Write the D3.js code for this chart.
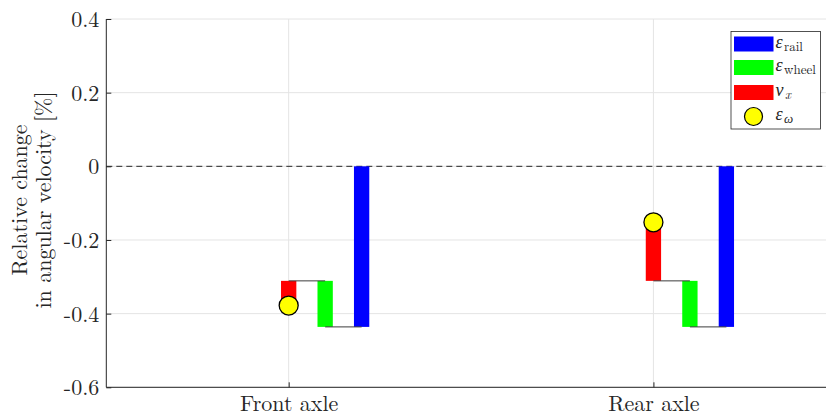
<!DOCTYPE html>
<html>
<head>
<meta charset="utf-8">
<script src="https://cdn.jsdelivr.net/npm/d3@7"></script>
<style>
  html, body { margin: 0; padding: 0; background: #fff; }
  svg { display: block; }
  text { font-family: "Latin Modern Roman", "CMU Serif", "Liberation Serif", serif; fill: #262626; }
</style>
</head>
<body>
<svg id="chart" width="826" height="416"></svg>
<script>
// Waterfall of the relative change in angular velocity, per axle
const categories = ["Front axle", "Rear axle"];
const epsRail  = [-0.436, -0.436];   // rail contribution (from 0)
const epsWheel = [0.125, 0.125];     // wheel contribution (stacked on rail)
const nuX      = [-0.067, 0.159];    // longitudinal creep contribution
const epsOmega = [-0.378, -0.152];   // resulting change in angular velocity
const yTicks   = [-0.6, -0.4, -0.2, 0, 0.2, 0.4];

const W = 826, H = 416;
const plotL = 106.3, plotR = 835.8, plotT = 19, plotB = 387.3;

const svg = d3.select("#chart");

const x = d3.scaleLinear().domain([0.5, 2.5]).range([plotL, plotR]);
const y = d3.scaleLinear().domain([-0.6, 0.4]).range([plotB, plotT]);

const barW = 0.042;
const offs = { nu: 0, wheel: 0.1, rail: 0.2 };
const colors = { rail: "#0000ff", wheel: "#00ff00", nu: "#ff0000", omega: "#ffff00" };

// grid
const grid = svg.append("g").attr("stroke", "#e4e4e4").attr("stroke-width", 1);
grid.selectAll("line.h").data(yTicks).join("line").attr("class", "h")
  .attr("x1", plotL).attr("x2", W).attr("y1", d => y(d)).attr("y2", d => y(d));
grid.selectAll("line.v").data([1, 2]).join("line").attr("class", "v")
  .attr("y1", plotT).attr("y2", plotB).attr("x1", d => x(d)).attr("x2", d => x(d));

// zero reference line
svg.append("line")
  .attr("x1", plotL).attr("x2", W).attr("y1", y(0)).attr("y2", y(0))
  .attr("stroke", "#262626").attr("stroke-width", 1)
  .attr("stroke-dasharray", "6,4");

const idx = categories.map((c, i) => i);

// bars
function bar(cls, off, y0f, y1f, color) {
  svg.append("g").selectAll("rect").data(idx).join("rect")
    .attr("class", cls)
    .attr("x", i => x(i + 1 + off - barW / 2))
    .attr("width", x(barW) - x(0))
    .attr("y", i => Math.min(y(y0f(i)), y(y1f(i))))
    .attr("height", i => Math.abs(y(y0f(i)) - y(y1f(i))))
    .attr("fill", color);
}
bar("rail", offs.rail, () => 0, i => epsRail[i], colors.rail);
bar("wheel", offs.wheel, i => epsRail[i], i => epsRail[i] + epsWheel[i], colors.wheel);
bar("nu", offs.nu, i => epsRail[i] + epsWheel[i], i => epsRail[i] + epsWheel[i] + nuX[i], colors.nu);

// connectors between consecutive bars
const conn = svg.append("g").attr("stroke", "#3c3c3c").attr("stroke-width", 1);
conn.selectAll("line.a").data(idx).join("line").attr("class", "a")
  .attr("x1", i => x(i + 1 + offs.nu)).attr("x2", i => x(i + 1 + offs.wheel))
  .attr("y1", i => y(epsRail[i] + epsWheel[i])).attr("y2", i => y(epsRail[i] + epsWheel[i]));
conn.selectAll("line.b").data(idx).join("line").attr("class", "b")
  .attr("x1", i => x(i + 1 + offs.wheel)).attr("x2", i => x(i + 1 + offs.rail))
  .attr("y1", i => y(epsRail[i])).attr("y2", i => y(epsRail[i]));

// resulting markers
svg.append("g").selectAll("circle").data(idx).join("circle")
  .attr("cx", i => x(i + 1)).attr("cy", i => y(epsOmega[i])).attr("r", 9.5)
  .attr("fill", colors.omega).attr("stroke", "#000").attr("stroke-width", 1.3);

// axes
const yAxis = d3.axisLeft(y).tickValues(yTicks).tickSize(-5).tickPadding(7)
  .tickFormat(d => d === 0 ? "0" : d3.format(".1f")(d).replace("−", "-"));
const gy = svg.append("g").attr("transform", `translate(${plotL},0)`).call(yAxis)
  .attr("font-family", null);
gy.select(".domain").attr("stroke", "#262626").attr("d", `M0,${plotB}V${plotT}`);
gy.selectAll(".tick line").attr("stroke", "#262626");
gy.selectAll(".tick text").attr("font-size", 22).attr("fill", "#262626")
  .attr("dy", "0.34em");

const xAxis = d3.axisBottom(x).tickValues([1, 2]).tickSize(-5).tickPadding(12)
  .tickFormat(d => categories[d - 1]);
const gx = svg.append("g").attr("transform", `translate(0,${plotB})`).call(xAxis)
  .attr("font-family", null);
gx.select(".domain").attr("stroke", "#262626").attr("d", `M${plotL},0H${W}`);
gx.selectAll(".tick line").attr("stroke", "#262626");
gx.selectAll(".tick text").attr("font-size", 22).attr("fill", "#262626")
  .attr("y", 0).attr("dy", "23.5");

// y label (two lines)
const yl = svg.append("g").attr("transform", "translate(0,200) rotate(-90)");
yl.append("text").attr("x", 0).attr("y", 27).attr("text-anchor", "middle")
  .attr("font-size", 22).text("Relative change");
yl.append("text").attr("x", 0).attr("y", 51).attr("text-anchor", "middle")
  .attr("font-size", 22).text("in angular velocity [%]");

// legend
const lg = svg.append("g");
lg.append("rect").attr("x", 731).attr("y", 31.5).attr("width", 89.5).attr("height", 97.5)
  .attr("fill", "#fff").attr("stroke", "#262626").attr("stroke-width", 0.8);
const items = [
  { key: "rail", sym: "ε", sub: "rail", subItalic: false, cy: 44 },
  { key: "wheel", sym: "ε", sub: "wheel", subItalic: false, cy: 67.5 },
  { key: "nu", sym: "ν", sub: "x", subItalic: true, cy: 92.5 },
  { key: "omega", sym: "ε", sub: "ω", subItalic: true, cy: 116.5 }
];
items.forEach(it => {
  if (it.key === "omega") {
    lg.append("circle").attr("cx", 753.5).attr("cy", it.cy).attr("r", 9)
      .attr("fill", colors.omega).attr("stroke", "#000").attr("stroke-width", 1.2);
  } else {
    lg.append("rect").attr("x", 734).attr("y", it.cy - 7.5).attr("width", 39.5).attr("height", 15)
      .attr("fill", colors[it.key]);
  }
  const t = lg.append("text").attr("x", 775.5).attr("y", it.cy + 3.5).attr("font-size", 18);
  t.append("tspan").attr("font-style", "italic").text(it.sym);
  t.append("tspan").attr("dx", 1.5).attr("dy", 3).attr("font-size", 13)
    .attr("font-style", it.subItalic ? "italic" : "normal").text(it.sub);
});
</script>
</body>
</html>
